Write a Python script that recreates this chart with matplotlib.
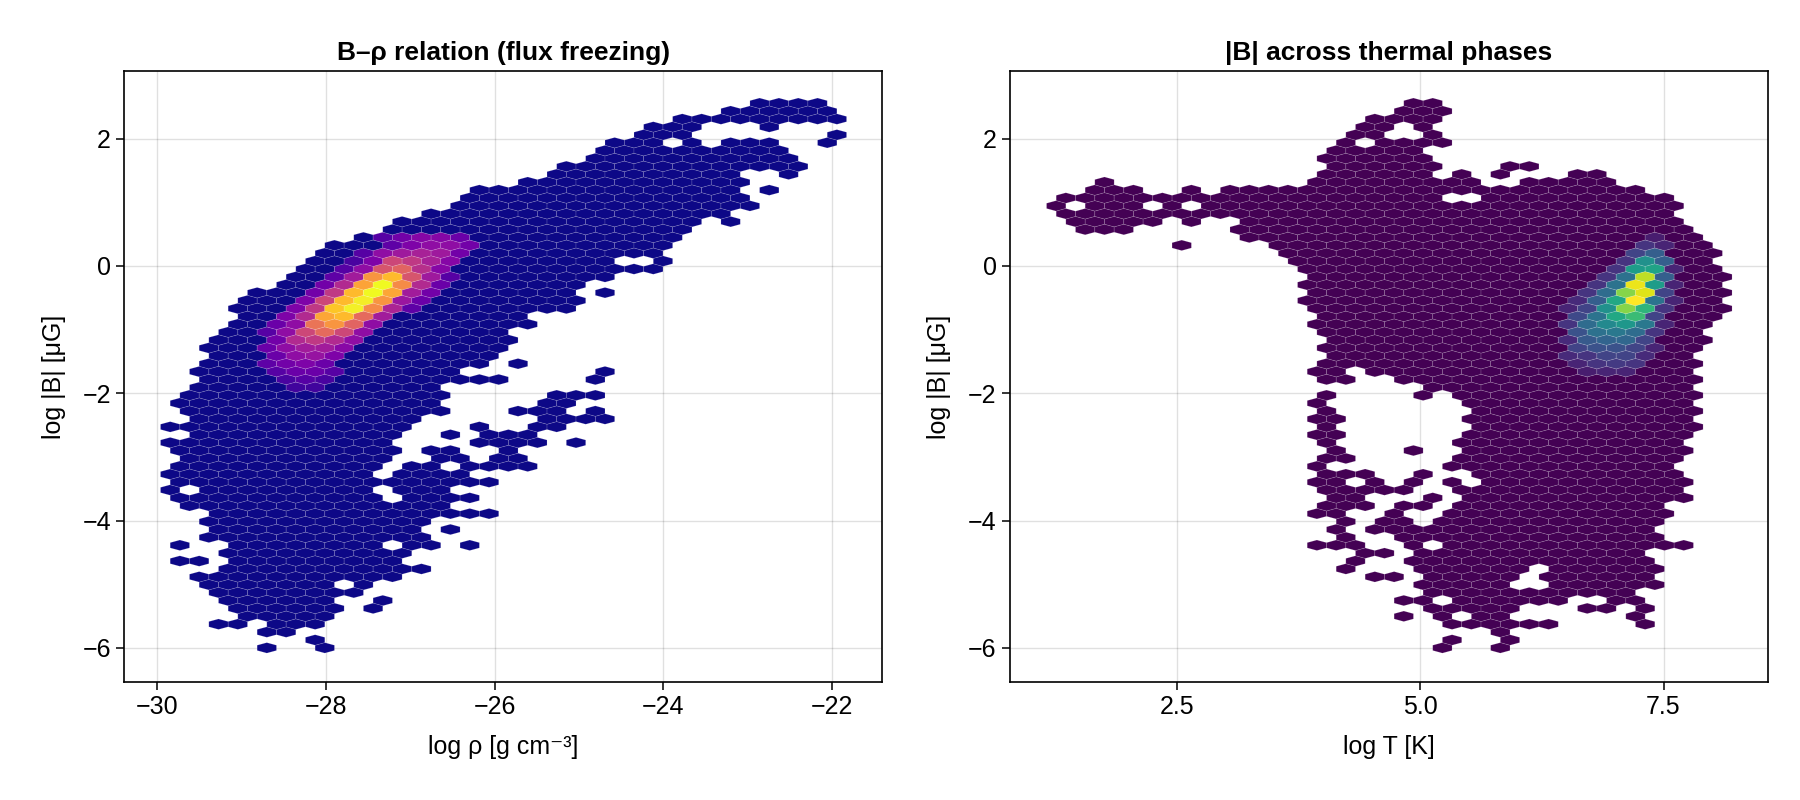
import numpy as np
import matplotlib
matplotlib.use("Agg")
import matplotlib.pyplot as plt
from matplotlib.colors import Normalize

plt.rcParams['font.family'] = ['Liberation Sans', 'DejaVu Sans']

# row centres of the hex grid in log |B| [uG], bottom to top (same rows in both panels)
logB_rows = [-6.000, -5.876, -5.752, -5.628, -5.504, -5.380, -5.256, -5.132, -5.008, -4.884,
             -4.760, -4.636, -4.512, -4.388, -4.264, -4.140, -4.016, -3.892, -3.768, -3.644,
             -3.520, -3.396, -3.272, -3.148, -3.024, -2.900, -2.776, -2.652, -2.528, -2.404,
             -2.280, -2.156, -2.032, -1.908, -1.784, -1.660, -1.536, -1.412, -1.288, -1.164,
             -1.040, -0.916, -0.792, -0.668, -0.544, -0.420, -0.296, -0.172, -0.048, 0.076,
             0.200, 0.324, 0.448, 0.572, 0.696, 0.820, 0.944, 1.068, 1.192, 1.316,
             1.440, 1.564, 1.688, 1.812, 1.936, 2.060, 2.184, 2.308, 2.432, 2.556]

# filled stretches of each row: (first cell, last cell) in log rho
rho_spans = [
    [(-28.71, -28.71), (-28.02, -28.02)],
    [(-28.14, -28.14)],
    [(-28.70, -28.48)],
    [(-29.28, -29.05), (-28.58, -28.13)],
    [(-28.93, -28.02)],
    [(-29.04, -27.91), (-27.44, -27.44)],
    [(-29.15, -28.02), (-27.33, -27.33)],
    [(-29.27, -27.66)],
    [(-29.40, -28.02), (-27.55, -27.55)],
    [(-29.50, -27.20)],
    [(-29.15, -26.86)],
    [(-29.74, -29.51), (-29.04, -27.20)],
    [(-29.15, -27.09)],
    [(-29.74, -29.74), (-29.04, -27.44), (-26.98, -26.75), (-26.29, -26.29)],
    [(-29.40, -26.86)],
    [(-29.27, -26.98), (-26.53, -26.53)],
    [(-29.40, -26.87)],
    [(-29.27, -26.07)],
    [(-29.61, -26.63)],
    [(-29.74, -27.44), (-26.98, -26.30)],
    [(-29.85, -29.85), (-29.40, -27.54), (-27.10, -26.63)],
    [(-29.74, -26.07)],
    [(-29.85, -27.53), (-27.10, -26.41)],
    [(-29.74, -27.43), (-26.98, -26.75), (-26.29, -25.61)],
    [(-29.61, -27.31), (-26.64, -26.40), (-25.94, -25.72)],
    [(-29.74, -27.21), (-26.75, -26.53), (-25.83, -25.83)],
    [(-29.85, -27.31), (-26.17, -25.49), (-25.04, -25.04)],
    [(-29.50, -27.20), (-26.53, -26.53), (-26.06, -25.61)],
    [(-29.85, -27.09), (-26.17, -26.17), (-25.49, -25.26)],
    [(-29.50, -26.98), (-25.36, -24.69)],
    [(-29.61, -26.63), (-25.72, -25.26), (-24.81, -24.81)],
    [(-29.74, -26.75), (-25.36, -25.16)],
    [(-29.61, -26.63), (-25.25, -24.80)],
    [(-29.50, -26.75)],
    [(-29.40, -25.95), (-24.81, -24.81)],
    [(-29.50, -26.52), (-24.69, -24.69)],
    [(-29.40, -26.17), (-25.73, -25.73)],
    [(-29.27, -26.05)],
    [(-29.40, -25.95)],
    [(-29.27, -25.84)],
    [(-29.16, -25.95)],
    [(-29.04, -25.62)],
    [(-28.93, -25.73)],
    [(-29.04, -25.16)],
    [(-28.93, -25.05)],
    [(-28.82, -25.15), (-24.69, -24.69)],
    [(-28.47, -25.05)],
    [(-28.34, -24.69)],
    [(-28.23, -24.12)],
    [(-28.12, -24.69), (-24.00, -24.00)],
    [(-28.01, -24.12)],
    [(-27.90, -24.00)],
    [(-27.55, -23.89)],
    [(-27.22, -23.77)],
    [(-27.10, -23.66), (-23.19, -23.19)],
    [(-26.75, -23.32)],
    [(-26.40, -22.98)],
    [(-26.29, -23.08)],
    [(-26.18, -23.19), (-22.74, -22.74)],
    [(-25.61, -23.08)],
    [(-25.25, -23.19), (-22.51, -22.51)],
    [(-25.14, -22.39)],
    [(-24.80, -22.51)],
    [(-24.68, -22.62)],
    [(-24.57, -24.11), (-23.66, -23.66), (-23.19, -22.73), (-22.07, -22.07)],
    [(-24.22, -23.77), (-21.96, -21.96)],
    [(-24.11, -23.66), (-22.74, -22.74)],
    [(-23.77, -21.94)],
    [(-23.19, -22.05)],
    [(-22.83, -22.16)],
]

# filled stretches of each row in log T
T_spans = [
    [(5.23, 5.23), (5.82, 5.82)],
    [(5.33, 5.33), (5.91, 5.91)],
    [(5.82, 5.82)],
    [(5.33, 6.31), (7.32, 7.32)],
    [(4.83, 4.83), (5.23, 5.23), (5.63, 5.82), (7.22, 7.22)],
    [(5.12, 5.91), (6.72, 6.92), (7.32, 7.32)],
    [(4.83, 4.83), (5.03, 5.03), (5.43, 6.41), (7.02, 7.22)],
    [(5.12, 7.12)],
    [(5.03, 5.82), (6.41, 7.42)],
    [(4.53, 4.73), (5.12, 5.92), (6.31, 7.32)],
    [(4.23, 4.23), (5.02, 6.01), (6.41, 7.42)],
    [(4.33, 4.33), (4.93, 7.32)],
    [(4.43, 4.63), (5.02, 7.22)],
    [(3.93, 4.33), (4.93, 4.93), (5.33, 7.32), (7.51, 7.72)],
    [(4.23, 4.23), (4.83, 7.42)],
    [(4.14, 4.14), (4.53, 7.32)],
    [(4.23, 4.23), (4.63, 4.83), (5.23, 7.42)],
    [(3.93, 4.13), (4.73, 4.73), (5.33, 7.51)],
    [(4.03, 4.43), (4.83, 5.02), (5.43, 7.41)],
    [(4.14, 4.33), (5.12, 5.12), (5.52, 7.72)],
    [(4.03, 4.83), (5.43, 7.61)],
    [(3.93, 4.14), (4.53, 4.53), (4.93, 4.93), (5.33, 5.33), (5.72, 7.72)],
    [(4.03, 4.43), (5.02, 5.02), (5.62, 7.61)],
    [(3.93, 3.93), (5.33, 7.51)],
    [(4.03, 4.23), (5.43, 7.61)],
    [(4.14, 4.14), (4.93, 4.93), (5.52, 7.72)],
    [(4.03, 4.03), (5.43, 7.61)],
    [(3.93, 4.14), (5.53, 7.72)],
    [(4.03, 4.03), (5.62, 7.82)],
    [(3.93, 4.14), (5.53, 7.71)],
    [(4.03, 4.03), (5.62, 7.82)],
    [(3.93, 3.93), (5.53, 7.71)],
    [(4.03, 4.03), (5.02, 5.02), (5.43, 7.82)],
    [(5.12, 7.71)],
    [(4.03, 4.23), (4.83, 7.82)],
    [(3.93, 4.13), (4.53, 7.71)],
    [(4.03, 7.82)],
    [(4.13, 7.71)],
    [(4.03, 7.82)],
    [(4.13, 7.92)],
    [(4.03, 7.82)],
    [(3.93, 7.92)],
    [(4.03, 8.02)],
    [(3.93, 8.11)],
    [(3.84, 8.02)],
    [(3.93, 8.11)],
    [(3.84, 8.02)],
    [(3.93, 8.11)],
    [(3.84, 8.02)],
    [(3.74, 7.92)],
    [(3.64, 8.02)],
    [(2.54, 2.54), (3.54, 7.92)],
    [(3.24, 7.82)],
    [(1.55, 1.95), (3.15, 7.72)],
    [(1.45, 2.25), (2.64, 2.64), (3.24, 7.61)],
    [(1.36, 7.51)],
    [(1.26, 1.26), (1.65, 2.05), (2.45, 2.45), (2.84, 7.61)],
    [(1.36, 5.13), (5.72, 7.51)],
    [(1.65, 2.05), (2.64, 2.64), (3.04, 7.22)],
    [(1.75, 1.75), (3.93, 5.50), (6.12, 6.92)],
    [(4.03, 5.02), (5.43, 5.43), (5.82, 5.82), (6.62, 6.82)],
    [(4.14, 5.12), (5.92, 6.12)],
    [(4.03, 5.02)],
    [(4.14, 4.93)],
    [(4.23, 4.23), (4.63, 5.23)],
    [(4.33, 4.53), (5.12, 5.12)],
    [(4.43, 4.63), (5.02, 5.02)],
    [(4.53, 5.12)],
    [(4.83, 5.23)],
    [(4.93, 5.12)],
]

# dense core: row, first cell, then relative count of each cell along the row (0..1)
rho_core_y = [0.448, 0.324, 0.200, 0.076, -0.048, -0.172, -0.296, -0.420, -0.544, -0.668,
              -0.792, -0.916, -1.040, -1.164, -1.288, -1.412, -1.536, -1.660, -1.784, -1.908]
rho_core_x = [-27.33, -27.21, -27.55, -27.67, -27.78, -27.90, -28.01, -28.13, -28.24, -28.36,
              -28.47, -28.59, -28.70, -28.59, -28.70, -28.59, -28.70, -28.59, -28.47, -28.36]
rho_core_vals = [
    [0.15, 0.22, 0.27, 0.27, 0.20],
    [0.17, 0.25, 0.30, 0.30, 0.22],
    [0.15, 0.30, 0.34, 0.37, 0.34, 0.22],
    [0.12, 0.25, 0.50, 0.45, 0.37, 0.27],
    [0.15, 0.30, 0.55, 0.60, 0.42, 0.27],
    [0.17, 0.35, 0.75, 0.85, 0.55, 0.34, 0.15],
    [0.22, 0.40, 0.79, 1.00, 0.72, 0.40, 0.20],
    [0.22, 0.45, 0.85, 1.00, 0.80, 0.35, 0.22],
    [0.25, 0.50, 0.85, 0.97, 0.75, 0.33, 0.20],
    [0.25, 0.45, 0.88, 0.98, 0.72, 0.38, 0.17],
    [0.25, 0.40, 0.80, 0.85, 0.62, 0.35],
    [0.20, 0.30, 0.65, 0.75, 0.60, 0.30],
    [0.15, 0.30, 0.50, 0.62, 0.50, 0.30],
    [0.22, 0.40, 0.45, 0.40, 0.30],
    [0.20, 0.30, 0.35, 0.35, 0.28],
    [0.20, 0.30, 0.32, 0.25],
    [0.17, 0.22, 0.25, 0.20],
    [0.15, 0.20, 0.20, 0.15],
    [0.12, 0.15, 0.12],
    [0.10, 0.10],
]

T_core_y = [0.448, 0.324, 0.200, 0.076, -0.048, -0.172, -0.296, -0.420, -0.544, -0.668,
            -0.792, -0.916, -1.040, -1.164, -1.288, -1.412, -1.536, -1.660]
T_core_x = [7.41, 7.31, 7.21, 7.11, 7.01, 6.91, 6.82, 6.72, 6.62, 6.52,
            6.62, 6.52, 6.62, 6.52, 6.62, 6.52, 6.62, 6.72]
T_core_vals = [
    [0.08],
    [0.15, 0.10],
    [0.20, 0.30],
    [0.15, 0.50, 0.30],
    [0.15, 0.55, 0.58, 0.10],
    [0.15, 0.37, 0.90, 0.30],
    [0.15, 0.38, 0.97, 0.55, 0.10],
    [0.15, 0.35, 0.82, 0.95, 0.20],
    [0.12, 0.30, 0.60, 1.00, 0.38, 0.10],
    [0.10, 0.20, 0.50, 0.82, 0.65, 0.15],
    [0.22, 0.38, 0.60, 0.68, 0.20],
    [0.15, 0.35, 0.47, 0.53, 0.40, 0.10],
    [0.25, 0.37, 0.40, 0.35, 0.15],
    [0.12, 0.28, 0.32, 0.33, 0.20],
    [0.20, 0.25, 0.25, 0.20, 0.10],
    [0.12, 0.15, 0.20, 0.20, 0.12],
    [0.10, 0.15, 0.17, 0.15],
    [0.08, 0.10, 0.10],
]

# hex lattice of each panel: centre of cell 0 in even rows, cell width; row step in log B
rho_x0, rho_dx = -28.70, 0.229
T_x0, T_dx = 5.227, 0.1985
row_dy = 0.124


def grid_cells(spans, core_y, core_x, core_vals, x0, dx):
    # one point per filled cell, placed at the cell centre, weight = relative count
    cells = {}
    for k, segs in enumerate(spans):
        shift = 0.5 * dx if k % 2 else 0.0
        for a, b in segs:
            n0 = int(np.ceil((a - x0 - shift) / dx - 0.4))
            n1 = int(np.floor((b - x0 - shift) / dx + 0.4))
            for n in range(n0, n1 + 1):
                cells[(k, n)] = 0.0
    for y, xs, vals in zip(core_y, core_x, core_vals):
        k = int(round((y - logB_rows[0]) / row_dy))
        shift = 0.5 * dx if k % 2 else 0.0
        n_start = int(round((xs - x0 - shift) / dx))
        for i, v in enumerate(vals):
            cells[(k, n_start + i)] = v
    xs, ys, cs = [], [], []
    for (k, n), v in cells.items():
        shift = 0.5 * dx if k % 2 else 0.0
        xs.append(x0 + shift + n * dx)
        ys.append(logB_rows[0] + k * row_dy)
        cs.append(v)
    return np.array(xs), np.array(ys), np.array(cs)


fig = plt.figure(figsize=(18, 8), dpi=100)
ax1 = fig.add_axes([0.069, 0.148, 0.421, 0.763])
ax2 = fig.add_axes([0.561, 0.148, 0.421, 0.763])

panels = [
    (ax1, rho_spans, rho_core_y, rho_core_x, rho_core_vals, rho_x0, rho_dx, 6, 'plasma',
     'B\u2013\u03c1 relation (flux freezing)', 'log \u03c1 [g cm\u207b\u00b3]',
     (-30.39, -21.41), [-30, -28, -26, -24, -22], ['\u221230', '\u221228', '\u221226', '\u221224', '\u221222']),
    (ax2, T_spans, T_core_y, T_core_x, T_core_vals, T_x0, T_dx, 21, 'viridis',
     '|B| across thermal phases', 'log T [K]',
     (0.78, 8.57), [2.5, 5.0, 7.5], ['2.5', '5.0', '7.5']),
]

for ax, spans, cy, cx, cv, x0, dx, nleft, cmap, title, xlabel, xlim, xticks, xticklabels in panels:
    x, y, c = grid_cells(spans, cy, cx, cv, x0, dx)
    xmin = x0 - nleft * dx
    ymin = logB_rows[0]
    ny = 36
    extent = (xmin, xmin + 37 * dx, ymin, ymin + ny * 2 * row_dy)
    ax.set_axisbelow(True)
    ax.grid(True, color='black', alpha=0.12, linewidth=1.0)
    ax.hexbin(x, y, C=c, reduce_C_function=np.max, gridsize=(37, ny), extent=extent,
              cmap=cmap, norm=Normalize(0, 1), edgecolors=(1, 1, 1, 0.18),
              linewidths=0.5, zorder=2)
    ax.set_xlim(*xlim)
    ax.set_ylim(-6.53, 3.06)
    ax.set_xticks(xticks)
    ax.set_xticklabels(xticklabels)
    ax.set_yticks([-6, -4, -2, 0, 2])
    ax.set_title(title, fontsize=19, fontweight='bold', pad=8)
    ax.set_xlabel(xlabel, fontsize=18, labelpad=12)
    ax.set_ylabel('log |B| [\u03bcG]', fontsize=18, labelpad=12)
    ax.tick_params(labelsize=18, length=6, width=1.1, direction='out')
    for s in ax.spines.values():
        s.set_linewidth(1.2)

fig.savefig('out.png', dpi=100)
